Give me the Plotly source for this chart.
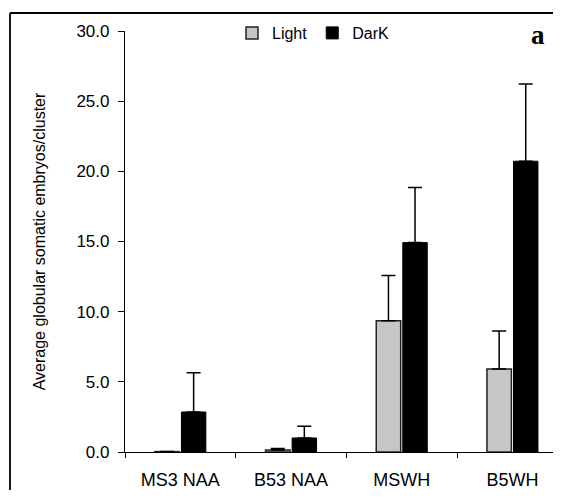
import plotly.graph_objects as go

categories = ["MS3 NAA", "B53 NAA", "MSWH", "B5WH"]
light = [0.03, 0.15, 9.36, 5.92]
light_err = [0.0, 0.10, 3.21, 2.70]
dark = [2.85, 1.00, 14.92, 20.72]
dark_err = [2.80, 0.83, 3.92, 5.51]
y_ticks = [0, 5, 10, 15, 20, 25, 30]
y_tick_labels = ["0.0", "5.0", "10.0", "15.0", "20.0", "25.0", "30.0"]

FONT = "Liberation Sans, Arial, sans-serif"

# The page body has an 8px default margin, so the figure sits at (8, 8) in the window.
OFF = 8
W, H = 561 - OFF, 498 - 2 * OFF
# plot area in window pixels: x 125..561, y 31..452
L, R, T = 125 - OFF, 0, 31 - OFF
B = H - (452 - OFF)
PW, PH = W - L - R, H - T - B


def px_x(p):
    """window pixel x -> paper"""
    return (p - OFF - L) / PW


def px_y(p):
    """window pixel y -> paper"""
    return (H - B - (p - OFF)) / PH


fig = go.Figure()
fig.add_trace(go.Bar(
    name="Light", x=categories, y=light,
    marker=dict(color="#c6c6c6", line=dict(color="#222222", width=1.5)),
    error_y=dict(type="data", symmetric=False, array=light_err,
                 arrayminus=[0] * len(light), color="black", thickness=1.5, width=7),
))
fig.add_trace(go.Bar(
    name="DarK", x=categories, y=dark,
    marker=dict(color="black", line=dict(color="black", width=1)),
    error_y=dict(type="data", symmetric=False, array=dark_err,
                 arrayminus=[0] * len(dark), color="black", thickness=1.5, width=7),
))

fig.update_layout(
    width=W, height=H,
    margin=dict(l=L, r=R, t=T, b=B, autoexpand=False),
    paper_bgcolor="white", plot_bgcolor="white",
    barmode="group", bargap=0.52, bargroupgap=0.08,
    font=dict(family=FONT, color="black", size=16),
    showlegend=True,
    legend=dict(orientation="h", x=px_x(232), y=px_y(33), xanchor="left", yanchor="middle",
                font=dict(size=16, family=FONT), bgcolor="rgba(0,0,0,0)",
                itemwidth=30, traceorder="normal"),
    xaxis=dict(
        type="category", range=[-0.5, 3.4386],
        showline=True, linecolor="black", linewidth=1.2,
        ticks="outside", tickson="boundaries", ticklen=5, tickcolor="black", tickwidth=1.2,
        tickfont=dict(size=18, family=FONT), ticklabelstandoff=11,
        showgrid=False, zeroline=False,
    ),
    yaxis=dict(
        range=[0, 30], tickvals=y_ticks, ticktext=y_tick_labels,
        showline=True, linecolor="black", linewidth=1.2,
        ticks="outside", ticklen=6, tickcolor="black", tickwidth=1.2,
        tickfont=dict(size=17, family=FONT), ticklabelstandoff=5,
        showgrid=False, zeroline=False,
        title=dict(text="Average globular somatic embryos/cluster",
                   font=dict(size=16, family=FONT), standoff=26),
    ),
    annotations=[dict(
        text="<b>a</b>", x=px_x(538), y=px_y(35), xref="paper", yref="paper",
        showarrow=False,
        font=dict(family="Liberation Serif, Times New Roman, serif", size=27, color="black"),
        xanchor="center", yanchor="middle",
    )],
)

# Outer frame border (figure is cropped at right and bottom)
fig.add_shape(type="line", xref="paper", yref="paper",
              x0=px_x(10), x1=1.2, y0=px_y(13), y1=px_y(13),
              line=dict(color="black", width=1.8))
fig.add_shape(type="line", xref="paper", yref="paper",
              x0=px_x(10), x1=px_x(10), y0=px_y(13), y1=-0.3,
              line=dict(color="black", width=1.8))

fig.write_html("out.html")
